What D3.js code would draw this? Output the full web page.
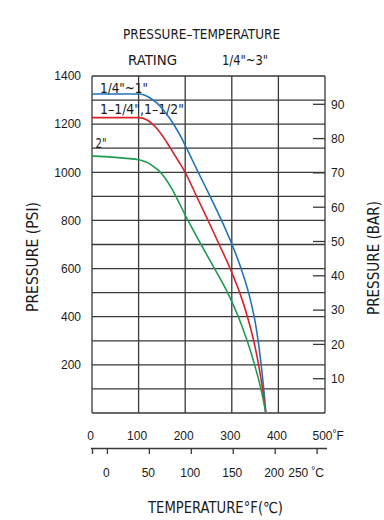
<!DOCTYPE html>
<html>
<head>
<meta charset="utf-8">
<script src="https://cdn.jsdelivr.net/npm/d3@7/dist/d3.min.js"></script>
<style>
  html, body { margin: 0; padding: 0; background: #fff; }
  svg { display: block; }
</style>
</head>
<body>
<svg id="chart" width="384" height="520"></svg>
<script>
// ---- data ----
// 1/4"~1"
const tempF = [0, 90, 100, 110, 120, 130, 140, 150, 160, 170, 180, 190, 203, 228, 253.5, 278, 300.5, 320, 336, 348, 356.5, 363, 368.5, 373];
const psiSmall = [1325, 1325, 1325, 1322, 1314, 1302, 1286, 1266, 1242, 1215, 1184, 1150, 1100, 1000, 900, 800, 700, 600, 500, 400, 300, 200, 100, 0];
// 1-1/4",1-1/2"
const tempFMid = [0, 90, 100, 110, 120, 130, 140, 150, 160, 170, 185, 200, 224.5, 249, 273, 296.5, 317, 333.5, 347, 357.5, 366, 373];
const psiMid = [1227, 1227, 1227, 1224, 1215, 1200, 1180, 1155, 1126, 1095, 1048, 1000, 900, 800, 700, 600, 500, 400, 300, 200, 100, 0];
// 2"
const tempFLarge = [0, 50, 100, 110, 120, 130, 140, 150, 160, 170, 180, 206, 234, 263, 291, 314, 333, 349, 362.5, 373];
const psiLarge = [1067, 1062, 1052, 1047, 1039, 1027, 1012, 993, 967, 936, 900, 800, 700, 600, 500, 400, 300, 200, 100, 0];

const seriesNames = ['1/4"~1"', '1\u20131/4",1\u20131/2"', '2"'];
const seriesColors = ['#2473b8', '#d8232c', '#1f9a52'];

const fTicks = [0, 100, 200, 300, 400, 500];
const cTicks = [0, 50, 100, 150, 200, 250];
const psiTicks = [200, 400, 600, 800, 1000, 1200, 1400];
const psiGrid = [0, 100, 200, 300, 400, 500, 600, 700, 800, 900, 1000, 1100, 1200, 1300, 1400];
const barTicks = [10, 20, 30, 40, 50, 60, 70, 80, 90];

const titleLine1 = 'PRESSURE\u2013TEMPERATURE';
const titleLine2a = 'RATING';
const titleLine2b = '1/4"~3"';
const yTitleLeft = 'PRESSURE (PSI)';
const yTitleRight = 'PRESSURE (BAR)';
const xTitle = 'TEMPERATURE\u00B0F(\u2103)';

// ---- layout ----
const svg = d3.select('#chart');
const L = 92, R = 325, T = 76, B = 413;
const x = d3.scaleLinear().domain([0, 500]).range([L, R]);
const y = d3.scaleLinear().domain([0, 1400]).range([B, T]);
const yBar = d3.scaleLinear().domain([0, 90]).range([B, 104.3]);
const xC = d3.scaleLinear().domain([(0 - 32) * 5 / 9, (500 - 32) * 5 / 9]).range([L, R]);

const condensed = "'Liberation Sans Narrow', 'DejaVu Sans Condensed', 'Liberation Sans', sans-serif";
const plain = "'Liberation Sans', Arial, sans-serif";
const gridColor = '#383838';

function fitText(txt, cx, by, len, size, anchor) {
  return svg.append('text')
    .attr('x', cx).attr('y', by)
    .attr('text-anchor', anchor || 'middle')
    .attr('font-family', condensed)
    .attr('font-size', size)
    .attr('fill', '#1a1a1a')
    .attr('textLength', len)
    .attr('lengthAdjust', 'spacingAndGlyphs')
    .text(txt);
}
// Titles
fitText(titleLine1, 201.5, 39.3, 157, 14);
fitText(titleLine2a, 152.5, 65, 49, 14);
fitText(titleLine2b, 245, 65, 46, 14);

// Grid
const g = svg.append('g');
g.selectAll('line.h').data(psiGrid).join('line')
  .attr('x1', L).attr('x2', R)
  .attr('y1', d => y(d)).attr('y2', d => y(d))
  .attr('stroke', gridColor).attr('stroke-width', 1.3);
g.selectAll('line.v').data(fTicks).join('line')
  .attr('x1', d => x(d)).attr('x2', d => x(d))
  .attr('y1', T).attr('y2', B)
  .attr('stroke', gridColor).attr('stroke-width', 1.3);

// Legend labels inside plot
fitText(seriesNames[0], 100, 92.5, 48, 14, 'start');
fitText(seriesNames[1], 100, 114, 84, 14, 'start');
fitText(seriesNames[2], 95.5, 148, 11, 14, 'start');

// Curves
const line = d3.line().x(d => x(d[0])).y(d => y(d[1])).curve(d3.curveCatmullRom.alpha(0.5));
const series = [
  d3.zip(tempF, psiSmall),
  d3.zip(tempFMid, psiMid),
  d3.zip(tempFLarge, psiLarge)
];
svg.append('g').selectAll('path').data(series).join('path')
  .attr('d', line)
  .attr('fill', 'none')
  .attr('stroke', (d, i) => seriesColors[i])
  .attr('stroke-width', 1.6);

// Left PSI labels
const yAxisL = d3.axisLeft(y).tickValues(psiTicks).tickSize(0).tickPadding(11).tickFormat(d3.format('d'));
const gL = svg.append('g').attr('transform', `translate(${L},0)`).call(yAxisL);
gL.select('.domain').remove();
gL.selectAll('text').attr('font-family', plain).attr('font-size', 12).attr('fill', '#1a1a1a');

// Right BAR ticks and labels
const yAxisR = d3.axisRight(yBar).tickValues(barTicks).tickSize(0).tickPadding(6).tickFormat(d3.format('d'));
const gR = svg.append('g').attr('transform', `translate(${R},0)`).call(yAxisR);
gR.select('.domain').remove();
gR.selectAll('text').attr('font-family', plain).attr('font-size', 12).attr('fill', '#1a1a1a');
svg.append('g').selectAll('line').data(barTicks).join('line')
  .attr('x1', R - 12).attr('x2', R)
  .attr('y1', d => yBar(d)).attr('y2', d => yBar(d))
  .attr('stroke', gridColor).attr('stroke-width', 1.3);

// Axis titles (rotated)
svg.append('text')
  .attr('transform', 'translate(38,257) rotate(-90)')
  .attr('text-anchor', 'middle')
  .attr('font-family', condensed).attr('font-size', 15).attr('fill', '#1a1a1a')
  .attr('textLength', 110).attr('lengthAdjust', 'spacingAndGlyphs')
  .text(yTitleLeft);
svg.append('text')
  .attr('transform', 'translate(379,258) rotate(-90)')
  .attr('text-anchor', 'middle')
  .attr('font-family', condensed).attr('font-size', 15).attr('fill', '#1a1a1a')
  .attr('textLength', 114).attr('lengthAdjust', 'spacingAndGlyphs')
  .text(yTitleRight);

// Fahrenheit labels
const xAxisF = d3.axisBottom(x).tickValues(fTicks).tickSize(0).tickPadding(0).tickFormat(d3.format('d'));
const gF = svg.append('g').attr('transform', 'translate(0,431)').call(xAxisF);
gF.select('.domain').remove();
gF.selectAll('text').attr('font-family', plain).attr('font-size', 12).attr('fill', '#1a1a1a')
  .attr('dx', -2);
const f500 = gF.selectAll('.tick').filter(d => d === 500).select('text')
  .attr('text-anchor', 'start').attr('dx', -13).text('500');
f500.append('tspan').attr('font-size', 10).attr('dy', '-0.25em').text('\u00B0');
f500.append('tspan').attr('dy', '0.25em').text('F');

// Celsius axis
const cTickVals = [xC.domain()[0]].concat(cTicks);
const xAxisC = d3.axisBottom(xC).tickValues(cTickVals).tickSize(6).tickSizeOuter(0)
  .tickFormat(d => (cTicks.includes(d) ? d : ''));
const gC = svg.append('g').attr('transform', 'translate(0,448)').call(xAxisC);
gC.select('.domain').attr('d', `M${L - 1},0.5H${R + 2}`).attr('stroke', gridColor).attr('stroke-width', 1.3);
gC.selectAll('.tick line').attr('stroke', gridColor).attr('stroke-width', 1.3);
gC.selectAll('.tick text').attr('font-family', plain).attr('font-size', 12).attr('fill', '#1a1a1a')
  .attr('y', 20).attr('dx', -1);
const c250 = gC.selectAll('.tick').filter(d => d === 250).select('text').attr('dx', -11);
c250.append('tspan').attr('dx', 3).attr('font-size', 10).attr('dy', '-0.25em').text('\u00B0');
c250.append('tspan').attr('dy', '0.25em').text('C');

// X title
fitText(xTitle, 215.5, 513, 135, 15);
</script>
</body>
</html>
